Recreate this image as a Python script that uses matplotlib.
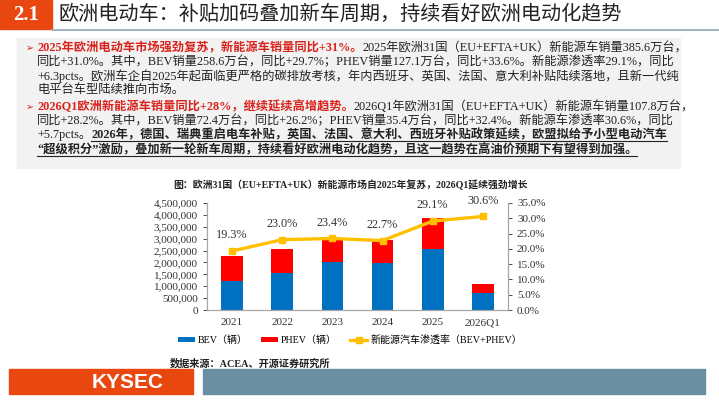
import matplotlib
matplotlib.use("Agg")
import matplotlib.pyplot as plt
from matplotlib.patches import Rectangle
from matplotlib.ticker import FuncFormatter

# chart data
years = ["2021", "2022", "2023", "2024", "2025", "2026Q1"]
bev = [1220000, 1560000, 2010000, 1990000, 2586000, 724000]
phev = [1040000, 1020000, 960000, 940000, 1271000, 354000]
nev_rate = [19.3, 23.0, 23.4, 22.7, 29.1, 30.6]

SERIF = ["Liberation Serif", "Noto Sans CJK SC", "DejaVu Sans"]
RED = "#D9231C"
W, H = 719, 405

fig = plt.figure(figsize=(W / 100, H / 100), dpi=100)
bg = fig.add_axes([0, 0, 1, 1])
bg.set_xlim(0, W)
bg.set_ylim(H, 0)
bg.axis("off")

# header
bg.add_patch(Rectangle((0, 0), 52, 29, color="#E8470F"))
bg.text(26, 15, "2.1", color="white", fontsize=15, fontweight="bold",
        family=SERIF, ha="center", va="center")
bg.plot([52, W], [29.5, 29.5], color="#8FA9BA", lw=1.2)
bg.text(58, 15, "欧洲电动车：补贴加码叠加新车周期，持续看好欧洲电动化趋势",
        fontsize=14.5, color="#222222", family=SERIF, ha="left", va="center")

# text box
bg.add_patch(Rectangle((17, 38), 663, 130, color="#F2F2F2"))

para_lines = [
    (48, True, [("2025年欧洲电动车市场强劲复苏，新能源车销量同比+31%。", "red"),
                ("2025年欧洲31国（EU+EFTA+UK）新能源车销量385.6万台，", "n")]),
    (62, False, [("同比+31.0%。其中，BEV销量258.6万台，同比+29.7%；PHEV销量127.1万台，同比+33.6%。新能源渗透率29.1%，同比", "n")]),
    (76, False, [("+6.3pcts。欧洲车企自2025年起面临更严格的碳排放考核，年内西班牙、英国、法国、意大利补贴陆续落地，且新一代纯", "n")]),
    (90, False, [("电平台车型陆续推向市场。", "n")]),
    (107, True, [("2026Q1欧洲新能源车销量同比+28%，继续延续高增趋势。", "red"),
                 ("2026Q1年欧洲31国（EU+EFTA+UK）新能源车销量107.8万台，", "n")]),
    (121, False, [("同比+28.2%。其中，BEV销量72.4万台，同比+26.2%；PHEV销量35.4万台，同比+32.4%。新能源车渗透率30.6%，同比", "n")]),
    (135, False, [("+5.7pcts。", "n"),
                  ("2026年，德国、瑞典重启电车补贴，英国、法国、意大利、西班牙补贴政策延续，欧盟拟给予小型电动汽车", "u")]),
    (150, False, [("“超级积分”激励，叠加新一轮新车周期，持续看好欧洲电动化趋势，且这一趋势在高油价预期下有望得到加强。", "u")]),
]

underlined = []
for y, bullet, segs in para_lines:
    if bullet:
        bg.text(26, y, "➢", color=RED, fontsize=7, family=["DejaVu Sans"],
                ha="left", va="center")
    prev = None
    for s, kind in segs:
        kw = dict(fontsize=8.8, family=SERIF, color="#222222")
        if kind == "red":
            kw.update(color=RED, fontweight="bold")
        if kind == "u":
            kw.update(fontweight="bold")
        if prev is None:
            t = bg.text(37, y, s, ha="left", va="center", **kw)
        else:
            t = bg.annotate(s, xy=(1, 0.5), xycoords=prev, ha="left", va="center", **kw)
        if kind == "u":
            underlined.append(t)
        prev = t

# chart title and source
bg.text(350, 185, "图：欧洲31国（EU+EFTA+UK）新能源市场自2025年复苏，2026Q1延续强劲增长",
        fontsize=7.1, fontweight="bold", family=SERIF, color="#222222",
        ha="center", va="center")
bg.text(170, 363, "数据来源：ACEA、开源证券研究所", fontsize=7.3, fontweight="bold",
        family=SERIF, color="#222222", ha="left", va="center")

# footer
bg.add_patch(Rectangle((9, 369), 184, 25, color="#E8470F"))
bg.text(128, 382, "KYSEC", color="white", fontsize=15, fontweight="bold",
        family=["Liberation Sans"], ha="center", va="center")
bg.add_patch(Rectangle((203, 369), 502, 25, color="#6A8FA3"))

# chart
ax = fig.add_axes([207 / W, 1 - 310 / H, 301 / W, 107 / H])
x = range(len(years))
b1 = ax.bar(x, bev, width=0.43, color="#0070C0", label="BEV（辆）")
b2 = ax.bar(x, phev, width=0.43, bottom=bev, color="#FF0000", label="PHEV（辆）")
ax.set_xlim(-0.5, len(years) - 0.5)
ax.set_ylim(0, 4500000)
ax.set_yticks(range(0, 4500001, 500000))
ax.yaxis.set_major_formatter(FuncFormatter(lambda v, p: f"{v:,.0f}"))
ax.set_xticks(list(x))
ax.set_xticklabels(years)

ax2 = ax.twinx()
ln, = ax2.plot(x, nev_rate, color="#FFC000", lw=2.4, marker="s", markersize=5,
               label="新能源汽车渗透率（BEV+PHEV）")
ax2.set_ylim(0, 35)
ax2.set_yticks(range(0, 36, 5))
ax2.yaxis.set_major_formatter(FuncFormatter(lambda v, p: f"{v:.1f}%"))
for xi, r in zip(x, nev_rate):
    ax2.annotate(f"{r:.1f}%", (xi, r), xytext=(0, 7), textcoords="offset points",
                 ha="center", va="bottom", fontsize=8.8, family=SERIF, color="#333333")

for a in (ax, ax2):
    a.spines["top"].set_visible(False)
    for s in ("left", "right", "bottom"):
        a.spines[s].set_color("#A6A6A6")
        a.spines[s].set_linewidth(0.8)
    a.tick_params(labelsize=8, colors="#333333", length=3, width=0.6)
    for lab in a.get_xticklabels() + a.get_yticklabels():
        lab.set_family(SERIF)
ax.tick_params(axis="x", length=0, pad=6)

leg = ax.legend(handles=[b1, b2, ln], ncol=3, frameon=False,
                loc="center", bbox_to_anchor=(350 / W, 1 - 340 / H),
                bbox_transform=fig.transFigure, prop={"family": SERIF, "size": 7.2},
                handlelength=1.7, handleheight=0.5, columnspacing=1.3, handletextpad=0.3)

fig.canvas.draw()
inv = bg.transData.inverted()
for t in underlined:
    bb = t.get_window_extent()
    (x0, y0), (x1, _) = inv.transform([(bb.x0, bb.y0), (bb.x1, bb.y1)])
    bg.plot([x0, x1], [y0, y0], color="#222222", lw=0.8)

fig.savefig("out.png", dpi=100)
